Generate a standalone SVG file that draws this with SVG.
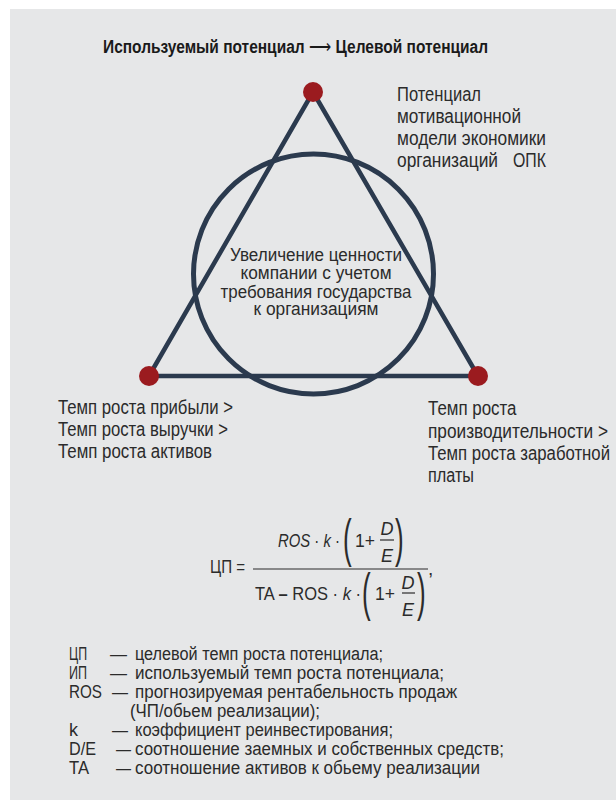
<svg xmlns="http://www.w3.org/2000/svg" width="616" height="800" viewBox="0 0 616 800">
<style>
text{font-family:"Liberation Sans Narrow","Liberation Sans",Arial,sans-serif;fill:#2b2b2b}
.t18{font-size:19.5px}
.t16{font-size:17.5px}
.t17{font-size:18px}
.tf{font-size:19px}
.tfs{font-size:18px}
.it{font-style:italic}
.ttl{font-size:18px;font-weight:bold;fill:#1a1a1a}
.ln{stroke:#2b3a4e;stroke-width:4.5;fill:none;stroke-linecap:round}
.dot{fill:#9b1b1f}
.fr{stroke:#2b2b2b;stroke-width:1.2}
.par{font-size:52px}
</style>
<rect x="10" y="9" width="606" height="791" fill="#e6e7e8"/>
<text id="title" class="ttl" x="103" y="53" textLength="385" lengthAdjust="spacingAndGlyphs">Используемый потенциал <tspan style="font-weight:normal">⟶</tspan> Целевой потенциал</text>
<g id="connectors">
<line class="ln" x1="313" y1="92" x2="149" y2="376"/>
<line class="ln" x1="313" y1="92" x2="478" y2="376"/>
<line class="ln" x1="149" y1="376" x2="478" y2="376"/>
</g>
<g id="circle">
<circle cx="313.5" cy="274" r="120" fill="none" stroke="#2b3a4e" stroke-width="5"/>
<text class="t16" text-anchor="middle" x="316" y="261" textLength="172" lengthAdjust="spacingAndGlyphs">Увеличение ценности</text>
<text class="t16" text-anchor="middle" x="316" y="279" textLength="151" lengthAdjust="spacingAndGlyphs">компании с учетом</text>
<text class="t16" text-anchor="middle" x="316" y="297.5" textLength="191" lengthAdjust="spacingAndGlyphs">требования государства</text>
<text class="t16" text-anchor="middle" x="316" y="315" textLength="125" lengthAdjust="spacingAndGlyphs">к организациям</text>
</g>
<g id="node-top">
<circle class="dot" cx="313" cy="92" r="10"/>
<text class="t18" x="397" y="101" textLength="84" lengthAdjust="spacingAndGlyphs">Потенциал</text>
<text class="t18" x="397" y="123" textLength="124" lengthAdjust="spacingAndGlyphs">мотивационной</text>
<text class="t18" x="397" y="145" textLength="149" lengthAdjust="spacingAndGlyphs">модели экономики</text>
<text class="t18" x="397" y="167"><tspan textLength="101" lengthAdjust="spacingAndGlyphs">организаций</tspan><tspan x="513" textLength="33" lengthAdjust="spacingAndGlyphs">ОПК</tspan></text>
</g>
<g id="node-left">
<circle class="dot" cx="149" cy="376" r="10"/>
<text class="t18" x="58" y="414" textLength="175" lengthAdjust="spacingAndGlyphs">Темп роста прибыли &gt;</text>
<text class="t18" x="58" y="436" textLength="170" lengthAdjust="spacingAndGlyphs">Темп роста выручки &gt;</text>
<text class="t18" x="58" y="458" textLength="154" lengthAdjust="spacingAndGlyphs">Темп роста активов</text>
</g>
<g id="node-right">
<circle class="dot" cx="478" cy="376" r="10"/>
<text class="t18" x="428" y="415" textLength="88.5" lengthAdjust="spacingAndGlyphs">Темп роста</text>
<text class="t18" x="428" y="437.5" textLength="180" lengthAdjust="spacingAndGlyphs">производительности &gt;</text>
<text class="t18" x="428" y="460" textLength="182" lengthAdjust="spacingAndGlyphs">Темп роста заработной</text>
<text class="t18" x="428" y="482" textLength="46" lengthAdjust="spacingAndGlyphs">платы</text>
</g>
<g id="formula">
<text class="tf" x="210" y="573" textLength="35" lengthAdjust="spacingAndGlyphs">ЦП =</text>
<line class="fr" x1="253" y1="569" x2="428" y2="569"/>
<text class="tf" x="428" y="575">,</text>
<text class="tf" x="278" y="547" textLength="62" lengthAdjust="spacingAndGlyphs"><tspan class="it">ROS</tspan> · <tspan class="it">k</tspan> ·</text>
<text class="par" transform="translate(343,556) scale(0.5,1)">(</text>
<text class="tf" x="355" y="547" textLength="20" lengthAdjust="spacingAndGlyphs">1+</text>
<text class="tfs it" x="387" y="535" text-anchor="middle">D</text>
<line class="fr" x1="380" y1="540" x2="394" y2="540"/>
<text class="tfs it" x="387" y="562" text-anchor="middle">E</text>
<text class="par" transform="translate(395,556) scale(0.5,1)">)</text>
<text class="tf" x="255" y="600" textLength="106" lengthAdjust="spacingAndGlyphs">TA <tspan style="font-weight:bold">–</tspan> ROS  · <tspan class="it">k</tspan> ·</text>
<text class="par" transform="translate(362,610) scale(0.5,1)">(</text>
<text class="tf" x="375" y="600" textLength="20" lengthAdjust="spacingAndGlyphs">1+</text>
<text class="tfs it" x="408" y="589" text-anchor="middle">D</text>
<line class="fr" x1="402" y1="593" x2="415" y2="593"/>
<text class="tfs it" x="408" y="616" text-anchor="middle">E</text>
<text class="par" transform="translate(417,610) scale(0.5,1)">)</text>
</g>
<g id="legend">
<text class="t17" x="69" y="660" textLength="18" lengthAdjust="spacingAndGlyphs">ЦП</text>
<text class="t17" x="110" y="660" textLength="17" lengthAdjust="spacingAndGlyphs">—</text>
<text class="t17" x="135" y="660" textLength="248" lengthAdjust="spacingAndGlyphs">целевой темп роста потенциала;</text>
<text class="t17" x="69" y="679" textLength="18" lengthAdjust="spacingAndGlyphs">ИП</text>
<text class="t17" x="110" y="679" textLength="17" lengthAdjust="spacingAndGlyphs">—</text>
<text class="t17" x="135" y="679" textLength="309" lengthAdjust="spacingAndGlyphs">используемый темп роста потенциала;</text>
<text class="t17" x="69" y="698" textLength="33" lengthAdjust="spacingAndGlyphs">ROS</text>
<text class="t17" x="112" y="698" textLength="16" lengthAdjust="spacingAndGlyphs">—</text>
<text class="t17" x="135" y="698" textLength="322" lengthAdjust="spacingAndGlyphs">прогнозируемая рентабельность продаж</text>
<text class="t17" x="130" y="717" textLength="190" lengthAdjust="spacingAndGlyphs">(ЧП/обьем реализации);</text>
<text class="t17" x="69" y="736">k</text>
<text class="t17" x="112" y="736" textLength="16" lengthAdjust="spacingAndGlyphs">—</text>
<text class="t17" x="135" y="736" textLength="258" lengthAdjust="spacingAndGlyphs">коэффициент реинвестирования;</text>
<text class="t17" x="69" y="755" textLength="27" lengthAdjust="spacingAndGlyphs">D/E</text>
<text class="t17" x="116" y="755" textLength="15" lengthAdjust="spacingAndGlyphs">—</text>
<text class="t17" x="135" y="755" textLength="369" lengthAdjust="spacingAndGlyphs">соотношение заемных и собственных средств;</text>
<text class="t17" x="69" y="774" textLength="20" lengthAdjust="spacingAndGlyphs">TA</text>
<text class="t17" x="116" y="774" textLength="15" lengthAdjust="spacingAndGlyphs">—</text>
<text class="t17" x="135" y="774" textLength="345" lengthAdjust="spacingAndGlyphs">соотношение активов к обьему реализации</text>
</g>
</svg>
